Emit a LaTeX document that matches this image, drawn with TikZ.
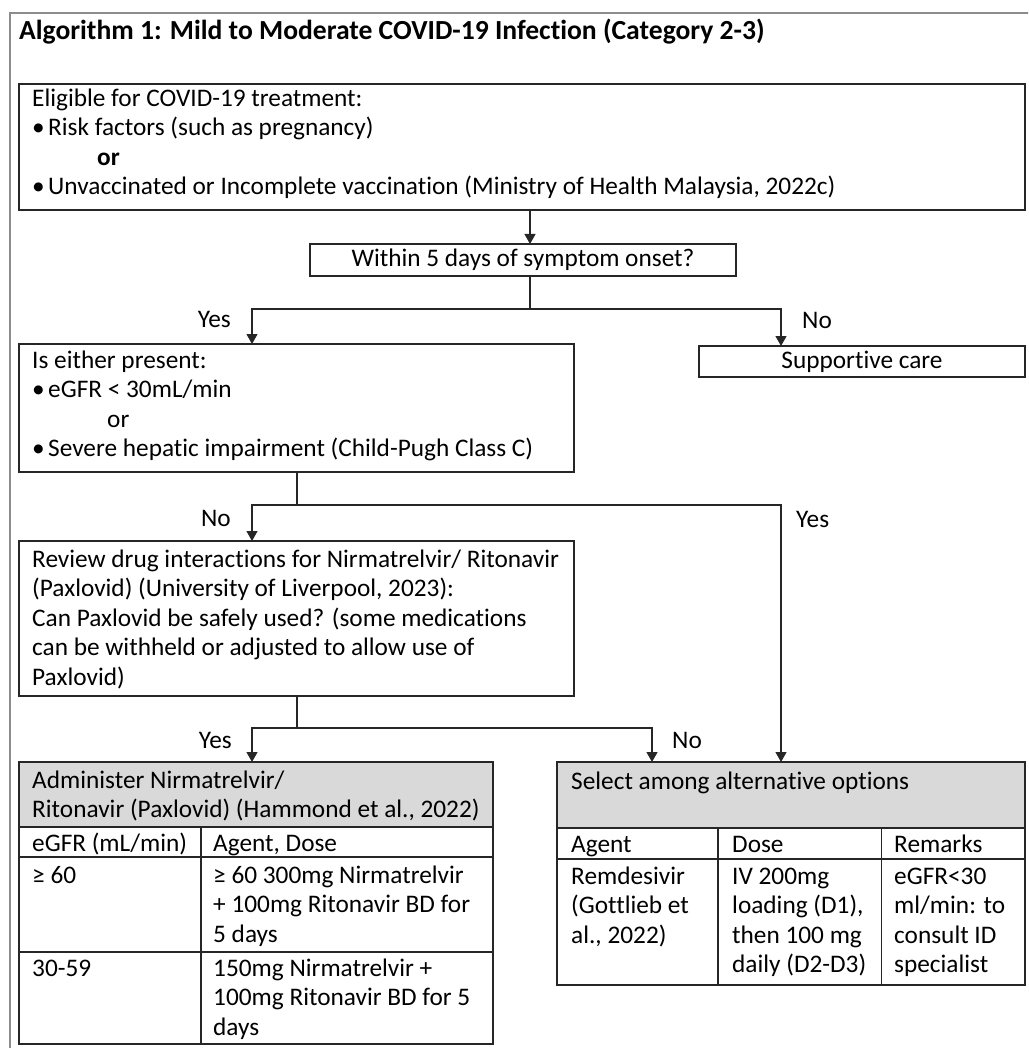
\documentclass[tikz,border=0pt]{standalone}
\usepackage{fontspec}
\setmainfont{Carlito}[Ligatures=NoCommon]
\usetikzlibrary{arrows.meta,calc}
\newcommand\bodyfs{\fontsize{25.3pt}{29.5pt}\selectfont}
\newcommand\titlefs{\fontsize{27.6pt}{32pt}\selectfont}
\definecolor{hdr}{HTML}{D9D9D9}
\definecolor{lnc}{HTML}{262626}
\begin{document}
\begin{tikzpicture}[x=1pt,y=-1pt,
  box/.style={draw=lnc, line width=1.4pt, anchor=north west, inner sep=0pt, outer sep=0pt},
  txt/.style={anchor=north west, inner sep=0pt, align=left, font=\bodyfs, text=black},
  lab/.style={inner sep=0pt, font=\bodyfs, text=black},
  ln/.style={draw=lnc, line width=1.2pt},
  arr/.style={ln, -{Triangle[width=11pt,length=10pt]}}]
\useasboundingbox (0,0) rectangle (1028,1048);
\clip (0,0) rectangle (1028,1048);
\draw[black!45, line width=2pt] (10,1060) -- (10,13) -- (1040,13);
\node[anchor=base west, inner sep=0pt, font=\titlefs\bfseries] (title) at (19,40) {Algorithm 1: Mild to Moderate COVID-19 Infection (Category 2-3)};
% box 1
\node[box, minimum width=1006pt, minimum height=126pt] (b1) at (19,84) {};
\node[txt] (t1) at (32,85.3) {\strut Eligible for COVID-19 treatment:\\
\makebox[16pt][l]{•}Risk factors (such as pregnancy)\\
\hspace*{65pt}\textbf{or}\\
\makebox[16pt][l]{•}Unvaccinated or Incomplete vaccination (Ministry of Health Malaysia, 2022c)};
% box 2
\node[box, minimum width=426pt, minimum height=32pt, font=\bodyfs] (b2) at (310,244) {Within 5 days of symptom onset?};
% supportive care
\node[box, minimum width=326pt, minimum height=31pt, font=\bodyfs] (sc) at (699,346) {Supportive care};
% box 3
\node[box, minimum width=555pt, minimum height=128pt] (b3) at (19,344) {};
\node[txt] (t3) at (32,347.3) {\strut Is either present:\\
\makebox[16pt][l]{•}eGFR < 30mL/min\\
\hspace*{75pt}or\\
\makebox[16pt][l]{•}Severe hepatic impairment (Child-Pugh Class C)};
% box 4
\node[box, minimum width=555pt, minimum height=155pt] (b4) at (19,541) {};
\node[txt] (t4) at (32,546.3) {\strut Review drug interactions for Nirmatrelvir/ Ritonavir\\
(Paxlovid) (University of Liverpool, 2023):\\
Can Paxlovid be safely used? (some medications\\
can be withheld or adjusted to allow use of\\
Paxlovid)};
% table A
\node[box, fill=hdr, minimum width=474pt, minimum height=65pt] (tA) at (19,762) {};
\node[box, minimum width=182pt, minimum height=30pt] (tA11) at (19,827) {};
\node[box, minimum width=292pt, minimum height=30pt] (tA12) at (201,827) {};
\node[box, minimum width=182pt, minimum height=95pt] (tA21) at (19,857) {};
\node[box, minimum width=292pt, minimum height=95pt] (tA22) at (201,857) {};
\node[box, minimum width=182pt, minimum height=92pt] (tA31) at (19,952) {};
\node[box, minimum width=292pt, minimum height=92pt] (tA32) at (201,952) {};
\node[txt] at (32,767.3) {\strut Administer Nirmatrelvir/\\Ritonavir (Paxlovid) (Hammond et al., 2022)};
\node[txt] at (32,830.3) {\strut eGFR (mL/min)};
\node[txt] at (213,830.3) {\strut Agent, Dose};
\node[txt] at (32,862.3) {\strut ≥ 60};
\node[txt] at (213,862.3) {\strut ≥ 60 300mg Nirmatrelvir\\+ 100mg Ritonavir BD for\\5 days};
\node[txt] at (32,955.3) {\strut 30-59};
\node[txt] at (213,955.3) {\strut 150mg Nirmatrelvir +\\100mg Ritonavir BD for 5\\days};
% table B
\node[box, fill=hdr, minimum width=468pt, minimum height=66pt] (tB) at (557,762) {};
\node[box, minimum width=161pt, minimum height=31pt] (tB11) at (557,828) {};
\node[box, minimum width=163.5pt, minimum height=31pt] (tB12) at (718,828) {};
\node[box, minimum width=143.5pt, minimum height=31pt] (tB13) at (881.5,828) {};
\node[box, minimum width=161pt, minimum height=126pt] (tB21) at (557,859) {};
\node[box, minimum width=163.5pt, minimum height=126pt] (tB22) at (718,859) {};
\node[box, minimum width=143.5pt, minimum height=126pt] (tB23) at (881.5,859) {};
\node[txt] at (571,768.3) {\strut Select among alternative options};
\node[txt] at (571,831.3) {\strut Agent};
\node[txt] at (732,831.3) {\strut Dose};
\node[txt] at (894,831.3) {\strut Remarks};
\node[txt] at (571,863.3) {\strut Remdesivir\\(Gottlieb et\\al., 2022)};
\node[txt] at (732,863.3) {\strut IV 200mg\\loading (D1),\\then 100 mg\\daily (D2-D3)};
\node[txt] at (894,863.3) {\strut eGFR<30\\ml/min: to\\consult ID\\specialist};
% connectors
\coordinate (xa) at (530,0);
\coordinate (xl) at (252,0);
\coordinate (xr) at (781,0);
\coordinate (xm) at (297,0);
\coordinate (xn) at (652,0);
\coordinate (j1) at (530,309);
\coordinate (j2) at (297,505);
\coordinate (j3) at (297,728);
\draw[arr] (b1.south -| xa) -- (b2.north -| xa);
\draw[ln] (b2.south -| xa) -- (j1);
\draw[arr] (j1) -| (b3.north -| xl);
\draw[arr] (j1) -| (sc.north -| xr);
\draw[ln] (b3.south -| xm) -- (j2);
\draw[arr] (j2) -| (b4.north -| xl);
\draw[arr] (j2) -| (tB.north -| xr);
\draw[ln] (b4.south -| xm) -- (j3);
\draw[arr] (j3) -| (tA.north -| xl);
\draw[arr] (j3) -| (tB.north -| xn);
% labels
\node[lab, anchor=base east] (l1) at (231,327) {Yes};
\node[lab, anchor=base west] (l2) at (802,328) {No};
\node[lab, anchor=base east] (l3) at (231,526) {No};
\node[lab, anchor=base west] (l4) at (796,527) {Yes};
\node[lab, anchor=base east] (l5) at (232,748) {Yes};
\node[lab, anchor=base west] (l6) at (672,748) {No};
\end{tikzpicture}
\end{document}
